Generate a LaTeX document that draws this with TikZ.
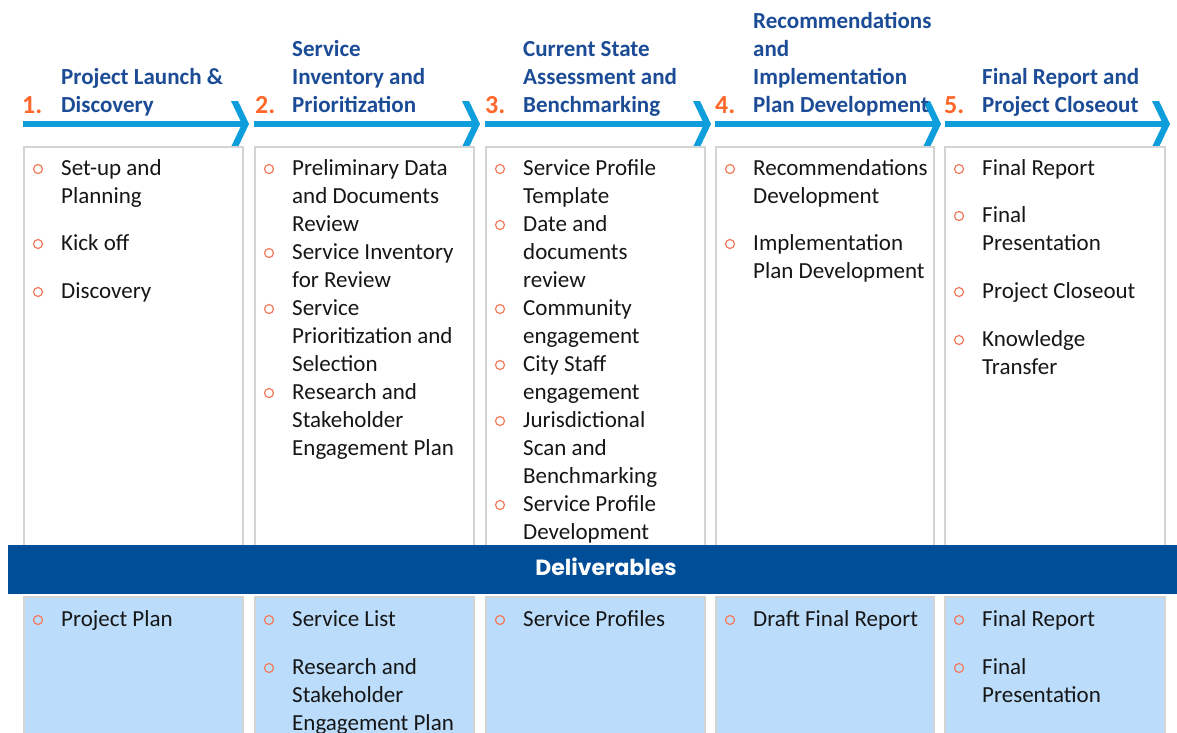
\documentclass[tikz,border=0pt]{standalone}
\usepackage{fontspec}
\setmainfont{Carlito}
\newfontfamily\barfont{Poppins}
\definecolor{arrowc}{RGB}{14,158,219}
\definecolor{titlec}{RGB}{28,76,150}
\definecolor{numc}{RGB}{255,104,42}
\definecolor{barc}{RGB}{0,77,152}
\definecolor{boxline}{RGB}{212,212,212}
\definecolor{delfill}{RGB}{187,221,251}
\definecolor{textc}{RGB}{22,22,22}
\definecolor{bulletc}{RGB}{242,122,92}
\tikzset{
  itemtext/.style={anchor=base west, inner sep=0pt, text=textc,
    font=\fontsize{23}{28}\selectfont},
  titletext/.style={anchor=base west, inner sep=0pt, text=titlec,
    font=\fontsize{23}{28}\selectfont\bfseries},
  numtext/.style={anchor=base west, inner sep=0pt, text=numc,
    font=\fontsize{26}{28}\selectfont\bfseries},
  bulletmark/.style={circle, draw=bulletc, line width=1.2pt,
    minimum size=9pt, inner sep=0pt},
  phasebox/.style={draw=boxline, line width=1.2pt, fill=white},
  delbox/.style={draw=boxline, line width=1.2pt, fill=delfill},
}
% bullet item: name, box left edge, baseline, lines
\newcommand\bitem[4]{%
  \node[bulletmark] (#1b) at (#2+14,#3-6) {};
  \node[itemtext] (#1) at (#2+37,#3) {\begin{tabular}[t]{@{}l@{}}#4\end{tabular}};
}
% phase arrow: start x, tip x
\newcommand\phasearrow[2]{%
  \fill[arrowc] (#1,121) rectangle (#2-6,127);
  \fill[arrowc] (#2-18,101) -- (#2-11,101) -- (#2,124) -- (#2-11,147)
    -- (#2-18,147) -- (#2-7,124) -- cycle;
}
\begin{document}
\begin{tikzpicture}[x=1pt,y=-1pt]
\useasboundingbox (0,0) rectangle (1177,732);
\clip (0,0) rectangle (1177,732);
\fill[white] (0,0) rectangle (1177,732);

% phase arrows
\phasearrow{23}{249}
\phasearrow{254}{480}
\phasearrow{485}{711}
\phasearrow{715}{941}
\phasearrow{945}{1170}

% phase numbers and titles
\node[numtext] (n1) at (22,113) {1.};
\node[numtext] (n2) at (255,113) {2.};
\node[numtext] (n3) at (485,113) {3.};
\node[numtext] (n4) at (715,113) {4.};
\node[numtext] (n5) at (944,113) {5.};
\node[titletext] (t1) at (61,112) {\begin{tabular}[b]{@{}l@{}}Project Launch \&\\Discovery\end{tabular}};
\node[titletext] (t2) at (292,112) {\begin{tabular}[b]{@{}l@{}}Service\\Inventory and\\Prioritization\end{tabular}};
\node[titletext] (t3) at (523,112) {\begin{tabular}[b]{@{}l@{}}Current State\\Assessment and\\Benchmarking\end{tabular}};
\node[titletext] (t4) at (753,112) {\begin{tabular}[b]{@{}l@{}}Recommendations\\and\\Implementation\\Plan Development\end{tabular}};
\node[titletext] (t5) at (982,112) {\begin{tabular}[b]{@{}l@{}}Final Report and\\Project Closeout\end{tabular}};

% activity boxes
\draw[phasebox] (24,147) rectangle (243,560);
\draw[phasebox] (255,147) rectangle (474,560);
\draw[phasebox] (486,147) rectangle (705,560);
\draw[phasebox] (716,147) rectangle (934,560);
\draw[phasebox] (945,147) rectangle (1165,560);

% activities
\bitem{a11}{24}{175}{Set-up and\\Planning}
\bitem{a12}{24}{250}{Kick off}
\bitem{a13}{24}{298}{Discovery}

\bitem{a21}{255}{175}{Preliminary Data\\and Documents\\Review}
\bitem{a22}{255}{259}{Service Inventory\\for Review}
\bitem{a23}{255}{315}{Service\\Prioritization and\\Selection}
\bitem{a24}{255}{399}{Research and\\Stakeholder\\Engagement Plan}

\bitem{a31}{486}{175}{Service Profile\\Template}
\bitem{a32}{486}{231}{Date and\\documents\\review}
\bitem{a33}{486}{315}{Community\\engagement}
\bitem{a34}{486}{371}{City Staff\\engagement}
\bitem{a35}{486}{427}{Jurisdictional\\Scan and\\Benchmarking}
\bitem{a36}{486}{511}{Service Profile\\Development}

\bitem{a41}{716}{175}{Recommendations\\Development}
\bitem{a42}{716}{250}{Implementation\\Plan Development}

\bitem{a51}{945}{175}{Final Report}
\bitem{a52}{945}{222}{Final\\Presentation}
\bitem{a53}{945}{298}{Project Closeout}
\bitem{a54}{945}{346}{Knowledge\\Transfer}

% deliverables bar
\fill[barc] (8,545) rectangle (1177,594);
\node[anchor=base, inner sep=0pt, text=white,
  font=\fontsize{22}{28}\barfont\bfseries] (del) at (606,575) {Deliverables};

% deliverable boxes
\draw[delbox] (24,597) rectangle (243,745);
\draw[delbox] (255,597) rectangle (474,745);
\draw[delbox] (486,597) rectangle (705,745);
\draw[delbox] (716,597) rectangle (934,745);
\draw[delbox] (945,597) rectangle (1165,745);

\bitem{d11}{24}{626}{Project Plan}
\bitem{d21}{255}{626}{Service List}
\bitem{d22}{255}{674}{Research and\\Stakeholder\\Engagement Plan}
\bitem{d31}{486}{626}{Service Profiles}
\bitem{d41}{716}{626}{Draft Final Report}
\bitem{d51}{945}{626}{Final Report}
\bitem{d52}{945}{674}{Final\\Presentation}
\end{tikzpicture}
\end{document}
